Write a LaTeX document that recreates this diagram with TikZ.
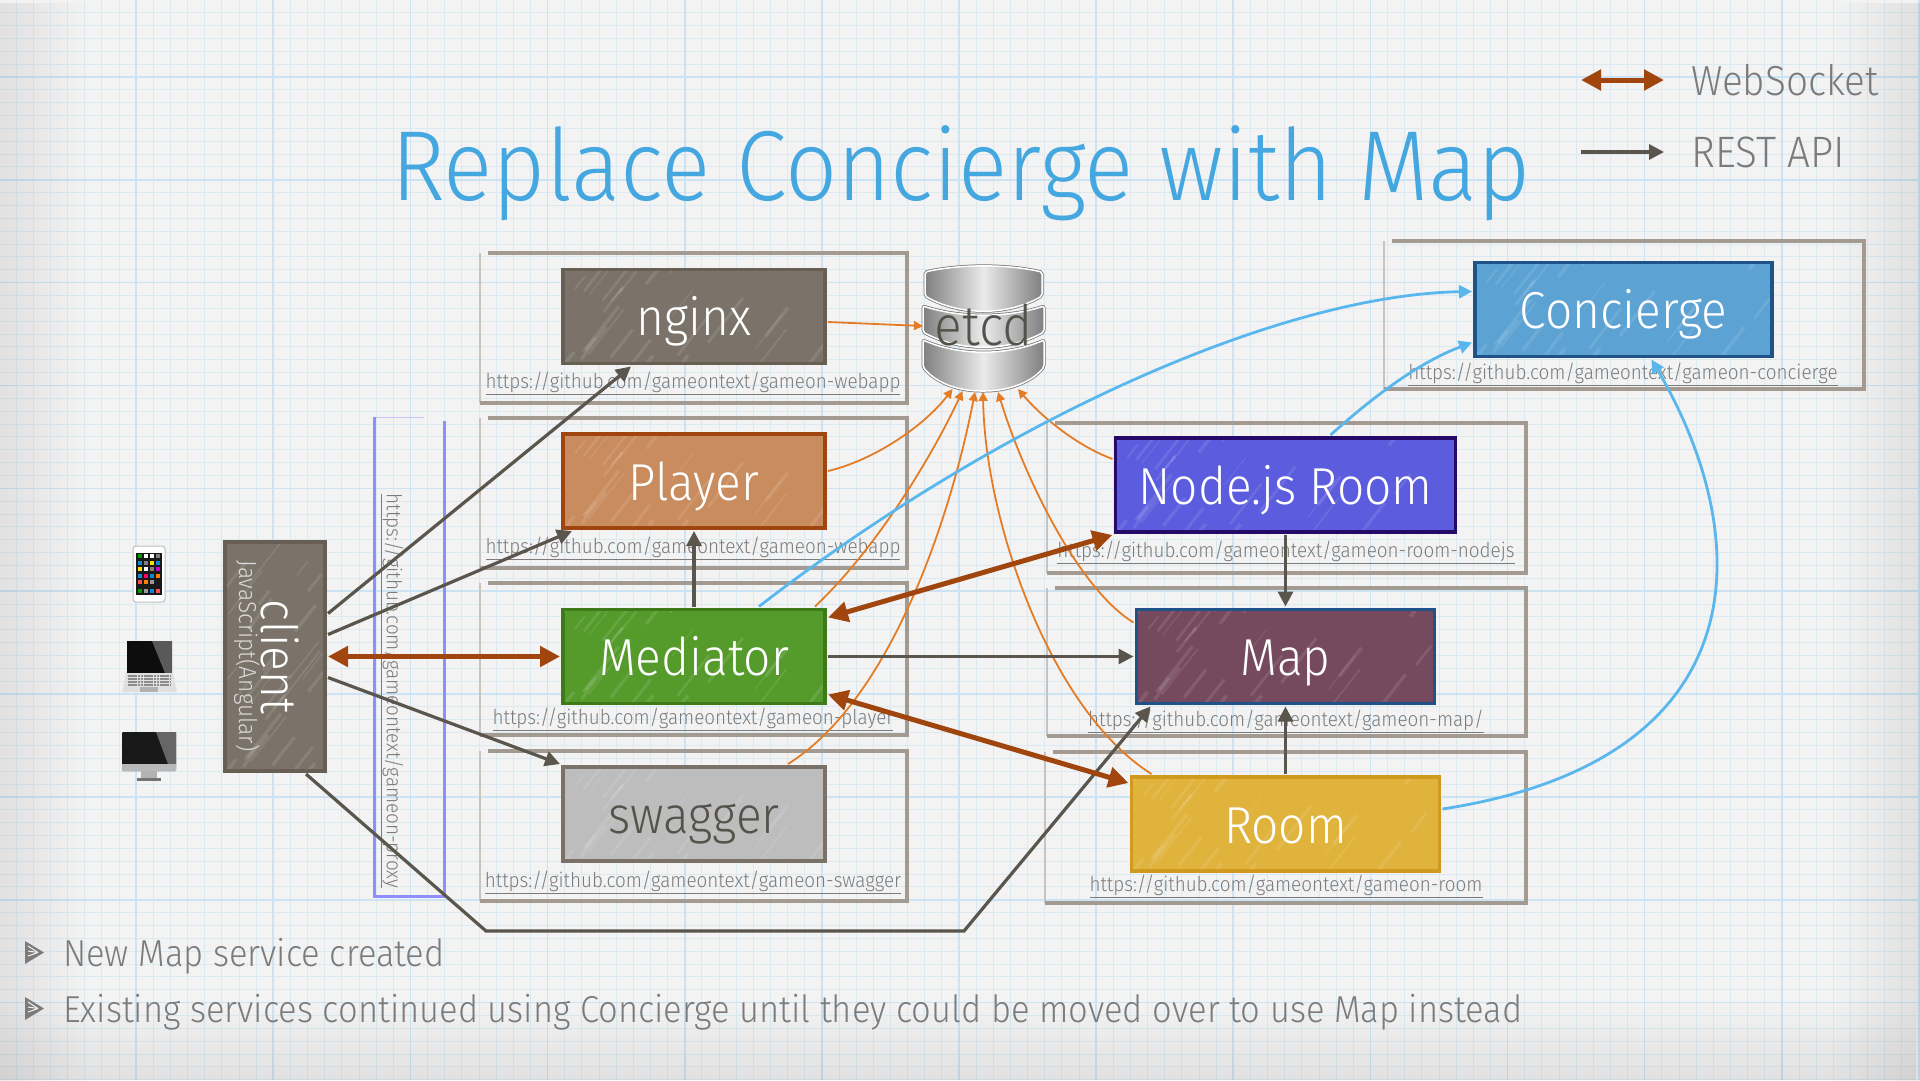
\documentclass[tikz,border=0pt]{standalone}
\usepackage{fontspec}
\setmainfont[FakeStretch=0.92]{Fira Sans Light}
\usetikzlibrary{calc, arrows.meta, fadings}
\definecolor{Paper}{HTML}{F3F3F3}
\definecolor{GridMinor}{HTML}{DDE9F1}
\definecolor{GridMajor}{HTML}{CBE3F2}
\definecolor{TitleBlue}{HTML}{44A7DF}
\definecolor{TextGray}{HTML}{7B7B7B}
\definecolor{FrameGray}{HTML}{A39B91}
\definecolor{ProxyBlue}{HTML}{8F8FFC}
\definecolor{WsBrown}{HTML}{A0450E}
\definecolor{RestGray}{HTML}{5A554D}
\definecolor{EtcdOrange}{HTML}{E47C26}
\definecolor{LinkBlue}{HTML}{5AB7EE}
\definecolor{DarkText}{HTML}{55514B}
\definecolor{StoneFill}{HTML}{7B7369}
\definecolor{StoneEdge}{HTML}{675F54}
\definecolor{PlayerFill}{HTML}{C98C5E}
\definecolor{MediatorFill}{HTML}{559B2C}
\definecolor{MediatorEdge}{HTML}{3F7A18}
\definecolor{SwaggerFill}{HTML}{BDBDBD}
\definecolor{SwaggerEdge}{HTML}{7A7268}
\definecolor{NodeFill}{HTML}{5C5CDE}
\definecolor{NodeEdge}{HTML}{260A6A}
\definecolor{MapFill}{HTML}{754A5E}
\definecolor{SteelEdge}{HTML}{1E5288}
\definecolor{RoomFill}{HTML}{E0B33D}
\definecolor{RoomEdge}{HTML}{CF9A1D}
\definecolor{ConciergeFill}{HTML}{5CA3D3}

\begin{document}
\begin{tikzpicture}[x=1pt, y=-1pt,
        box/.style={draw=#1, line width=3.5pt, minimum height=94pt, inner sep=0pt, outer sep=3pt,
                    text=white, text height=49pt, text depth=11pt,
                    font=\fontsize{52}{52}\selectfont, streaks},
        streaks/.style={path picture={
            \pgfmathsetseed{41}
            \foreach \i in {1,...,70}{
              \pgfmathsetmacro{\sx}{rnd*340-40}
              \pgfmathsetmacro{\sy}{rnd*230-30}
              \pgfmathsetmacro{\slen}{rnd*50+15}
              \pgfmathsetmacro{\swid}{rnd*3+0.8}
              \draw[white, opacity=0.1, line width=\swid pt]
                ($(path picture bounding box.south west)+(\sx pt,\sy pt)$) -- +(52:\slen pt);
            }}},
        urltext/.style={text=TextGray, inner sep=0pt, font=\fontsize{20.5}{24}\selectfont},
        plate/.style={inner sep=0pt, outer sep=0pt},
        slab/.style={draw=white, line width=1.5pt, left color=black!50, right color=black!50, middle color=black!8,
                     rounded corners=2pt, preaction={draw=black!55, line width=3pt}},
        rest/.style={-{Triangle[length=15pt, width=15pt]}, RestGray, line width=3.2pt},
        ws/.style={{Triangle[length=20pt, width=20pt]}-{Triangle[length=20pt, width=20pt]}, WsBrown, line width=5pt},
        etcdlink/.style={-{Triangle[length=9pt, width=9pt]}, EtcdOrange, line width=1.8pt},
        bluelink/.style={-{Triangle[length=13pt, width=13pt]}, LinkBlue, line width=2.8pt}]
        \useasboundingbox (0,0) rectangle (1920,1080);

        % Graph paper
        \fill[Paper] (0,0) rectangle (1920,1080);
        \foreach \k in {0,...,112} \draw[GridMinor, line width=1pt] (\k*17.143-1,0) -- (\k*17.143-1,1080);
        \foreach \k in {0,...,92}  \draw[GridMinor, line width=1pt] (0,\k*12.857-26) -- (1920,\k*12.857-26);
        \foreach \k in {0,...,14}  \draw[GridMajor, line width=1.6pt] (\k*137.14-1,0) -- (\k*137.14-1,1080);
        \foreach \k in {0,...,11}  \draw[GridMajor, line width=1.6pt] (0,\k*102.86-26) -- (1920,\k*102.86-26);
        \fill[black, opacity=0.07, path fading=east] (0,0) rectangle (90,1080);
        \fill[black, opacity=0.07, path fading=west] (1830,0) rectangle (1920,1080);
        \fill[black, opacity=0.07, path fading=north] (0,1000) rectangle (1920,1080);

        % Title and legend
        \node[anchor=base, text=TitleBlue, inner sep=0pt, font=\fontsize{99.5}{100}\selectfont] (title) at (961,200) {Replace Concierge with Map};
        \coordinate (wsleft) at (1581,80);
        \coordinate (wsright) at (1664,80);
        \coordinate (restleft) at (1581,152);
        \coordinate (restright) at (1664,152);
        \node[anchor=base west, text=TextGray, inner sep=0pt, font=\fontsize{42}{42}\selectfont] (wslabel) at (1691,95) {WebSocket};
        \node[anchor=base west, text=TextGray, inner sep=0pt, font=\fontsize{44}{44}\selectfont] (restlabel) at (1691,167) {REST API};

        % Frames round each service
        \node[plate, minimum width=427pt, minimum height=150pt] (fnginx)    at (693.5,328) {};
        \node[plate, minimum width=427pt, minimum height=150pt] (fplayer)   at (693.5,493) {};
        \node[plate, minimum width=427pt, minimum height=152pt] (fmediator) at (693.5,659) {};
        \node[plate, minimum width=427pt, minimum height=150pt] (fswagger)  at (693.5,826) {};
        \node[plate, minimum width=479pt, minimum height=150pt] (fnode)     at (1286.5,498) {};
        \node[plate, minimum width=479pt, minimum height=148pt] (fmap)      at (1286.5,662) {};
        \node[plate, minimum width=481pt, minimum height=151pt] (froom)     at (1285.5,827.5) {};
        \node[plate, minimum width=480pt, minimum height=148pt] (fconcierge) at (1624,315) {};
        \node[plate, minimum width=70pt,  minimum height=479pt] (fproxy)    at (409,656.5) {};
        \foreach \f in {fnginx, fplayer, fmediator, fswagger, fnode, fmap, froom, fconcierge} {
          \draw[FrameGray!60, line width=1.2pt] (\f.north west) -- (\f.south west);
          \draw[FrameGray, line width=3.5pt, line join=miter] ([xshift=8pt]\f.north west) -- (\f.north east) -- (\f.south east) -- (\f.south west);
        }
        \draw[ProxyBlue!50, line width=1pt] (fproxy.north west) -- ([xshift=-20pt]fproxy.north east);
        \draw[ProxyBlue, line width=3pt, line join=miter] (fproxy.north west) -- (fproxy.south west) -- (fproxy.south east) -- ([yshift=-4pt]fproxy.north east);

        % Devices
        \fill[white, draw=black!25, line width=1pt, rounded corners=3pt] (133,546) rectangle (165,602);
        \fill[black!90] (136,553) rectangle (162,595);
        \foreach \ay/\ca/\cb/\cc/\cd in {556/green!60!black/white/white/black!50, 563/cyan!70!blue/black!50/yellow!80!orange/cyan!70!blue,
                                         569/yellow!80!orange/white/black!50/violet!40!magenta, 576/cyan!70!blue/red!60!magenta/cyan!70!blue/orange,
                                         582/red!70/orange/black!40/black!90, 591/green!60!black/black!40/cyan!70!blue/red!70} {
          \fill[\ca] (138,\ay-2) rectangle (142,\ay+2);
          \fill[\cb] (144,\ay-2) rectangle (148,\ay+2);
          \fill[\cc] (150,\ay-2) rectangle (154,\ay+2);
          \fill[\cd] (156,\ay-2) rectangle (160,\ay+2);
        }
        \fill[black!95] (127,641) rectangle (172,673);
        \fill[black!65] (152,641) -- (172,641) -- (172,673) -- (165,673) -- cycle;
        \fill[black!12] (126,673) -- (173,673) -- (177,692) -- (122,692) -- cycle;
        \foreach \ky in {676,679,682,685} \draw[black!45, line width=1.6pt, dash pattern=on 2.5pt off 0.7pt] (128,\ky) -- (171,\ky);
        \fill[black!30] (140,687) rectangle (158,692);
        \fill[black!90, rounded corners=1pt] (122,732) rectangle (176,771);
        \fill[black!60] (156,732) -- (176,732) -- (176,764) -- (168,764) -- cycle;
        \fill[black!28] (122,764) rectangle (176,771);
        \fill[black!30] (141,771) rectangle (157,778);
        \fill[black!55] (137,778) rectangle (161,781);

        % etcd drum
        \draw[slab] (923,340) .. controls (960,356) and (1007,356) .. (1044,340) -- (1044,367) .. controls (1030,384) and (1005,391) .. (983,391) .. controls (960,391) and (937,384) .. (923,367) -- cycle;
        \draw[slab] (923,306) .. controls (960,318) and (1007,318) .. (1044,306) -- (1044,332) .. controls (1007,352) and (960,352) .. (923,332) -- cycle;
        \draw[slab] (925,272) .. controls (960,264) and (1007,264) .. (1042,272) -- (1042,296) .. controls (1007,316) and (960,316) .. (925,296) -- cycle;
        \node[plate, minimum width=121pt, minimum height=124pt, text=DarkText, text height=44pt, text depth=12pt, font=\fontsize{56}{56}\selectfont] (etcd) at (983.5,329) {etcd};

        % Services, left column
        \node[box=StoneEdge, fill=StoneFill, minimum width=262pt] (nginx) at (694,316.5) {nginx};
        \node[box=WsBrown, fill=PlayerFill, minimum width=262pt] (player) at (694,481) {Player};
        \node[box=MediatorEdge, fill=MediatorFill, minimum width=262pt] (mediator) at (694,656.5) {Mediator};
        \node[box=SwaggerEdge, fill=SwaggerFill, minimum width=262pt, text=DarkText] (swagger) at (694,814) {swagger};
        % Services, right column
        \node[box=NodeEdge, fill=NodeFill, minimum width=340pt] (node) at (1285.5,485) {Node.js Room};
        \node[box=SteelEdge, fill=MapFill, minimum width=298pt] (map) at (1285.5,656.5) {Map};
        \node[box=RoomEdge, fill=RoomFill, minimum width=308pt] (room) at (1285.5,824) {Room};
        \node[box=SteelEdge, fill=ConciergeFill, minimum width=297pt] (concierge) at (1623.5,309.5) {Concierge};
        \node[box=StoneEdge, fill=StoneFill, minimum width=100pt, minimum height=229pt] (client) at (275,656.5) {};
        \node[rotate=-90, text=white, inner sep=0pt, font=\fontsize{50}{50}\selectfont] (clientname) at (280,657) {client};
        \node[rotate=-90, text=white!85!black, inner sep=0pt, font=\fontsize{24.6}{26}\selectfont] (clientjs) at (247,656) {JavaScript(Angular)};

        % Repository links
        \node[urltext] (unginx)     at (693,383)  {\underline{https://github.com/gameontext/gameon-webapp}};
        \node[urltext] (uplayer)    at (693,548)  {\underline{https://github.com/gameontext/gameon-webapp}};
        \node[urltext] (umediator)  at (693,719)  {\underline{https://github.com/gameontext/gameon-player}};
        \node[urltext] (uswagger)   at (693,882)  {\underline{https://github.com/gameontext/gameon-swagger}};
        \node[urltext] (unode)      at (1286,552) {\underline{https://github.com/gameontext/gameon-room-nodejs}};
        \node[urltext] (umap)       at (1286,721) {\underline{https://github.com/gameontext/gameon-map/}};
        \node[urltext] (uroom)      at (1286,886) {\underline{https://github.com/gameontext/gameon-room}};
        \node[urltext] (uconcierge) at (1623,374) {\underline{https://github.com/gameontext/gameon-concierge}};
        \node[urltext, rotate=-90]  (uproxy) at (392,691) {\underline{https://github.com/gameontext/gameon-proxy}};

        % etcd links
        \draw[etcdlink] ([yshift=-5.5pt]nginx.east) -- ([yshift=3pt]etcd.west);
        \draw[etcdlink] ([yshift=10pt]player.east) .. controls (875,460) and (925,425) .. ([shift={(-31pt,2pt)}]etcd.south);
        \draw[etcdlink] ([xshift=121pt]mediator.north) .. controls (880,545) and (935,450) .. ([shift={(-21pt,0pt)}]etcd.south);
        \draw[etcdlink] ([xshift=94pt]swagger.north) .. controls (890,700) and (950,520) .. ([shift={(-8.5pt,-1pt)}]etcd.south);
        \draw[etcdlink] ([xshift=-134pt]room.north) .. controls (1050,710) and (985,520) .. ([shift={(-0.5pt,-1pt)}]etcd.south);
        \draw[etcdlink] ([yshift=34pt]map.west) .. controls (1080,590) and (1025,480) .. ([shift={(14.5pt,-1pt)}]etcd.south);
        \draw[etcdlink] ([yshift=26pt]node.west) .. controls (1075,445) and (1040,415) .. ([shift={(34.5pt,2pt)}]etcd.south);

        % Concierge links
        \draw[bluelink] ([xshift=65pt]mediator.north) .. controls (1000,420) and (1280,295) .. ([yshift=18pt]concierge.west);
        \draw[bluelink] ([xshift=45pt]node.north) .. controls (1375,395) and (1420,362) .. ([yshift=-33pt]concierge.west);
        \draw[bluelink] ([yshift=15pt]room.east) .. controls (1760,760) and (1757,540) .. ([xshift=28pt]concierge.south);

        % REST links
        \coordinate (bendleft) at (486,931);
        \coordinate (bendright) at (964,931);
        \draw[rest] ([yshift=43pt]client.east) -- ([xshift=-63pt]nginx.south);
        \draw[rest] ([yshift=22pt]client.east) -- ([xshift=-122pt]player.south);
        \draw[rest] ([yshift=-21pt]client.east) -- (swagger.north west);
        \draw[rest] ([xshift=31pt]client.south) -- (bendleft) -- (bendright) -- ([xshift=-135pt]map.south);
        \draw[rest] (mediator.north) -- (player.south);
        \draw[rest] (mediator.east) -- (map.west);
        \draw[rest] (node.south) -- (map.north);
        \draw[rest] (room.north) -- (map.south);
        \draw[rest] (restleft) -- (restright);

        % WebSocket links
        \draw[ws] (client.east) -- (mediator.west);
        \draw[ws] ([yshift=39pt]mediator.east) -- (node.south west);
        \draw[ws] ([yshift=-38pt]mediator.east) -- ([yshift=-9pt]room.north west);
        \draw[ws] (wsleft) -- (wsright);

        % Bullets
        \foreach \by/\btext/\bname in {966/New Map service created/bone, 1022/Existing services continued using Concierge until they could be moved over to use Map instead/btwo} {
          \fill[TextGray] (25,\by-25) -- (44,\by-13.5) -- (25,\by-2) -- cycle;
          \foreach \bs in {-20,-15,-10} \draw[Paper, line width=1pt] (28,\by+\bs) -- (38,\by-13.5);
          \node[anchor=base west, text=TextGray, inner sep=0pt, font=\fontsize{37.5}{38}\selectfont] (\bname) at (63,\by) {\btext};
        }
      \end{tikzpicture}
\end{document}
